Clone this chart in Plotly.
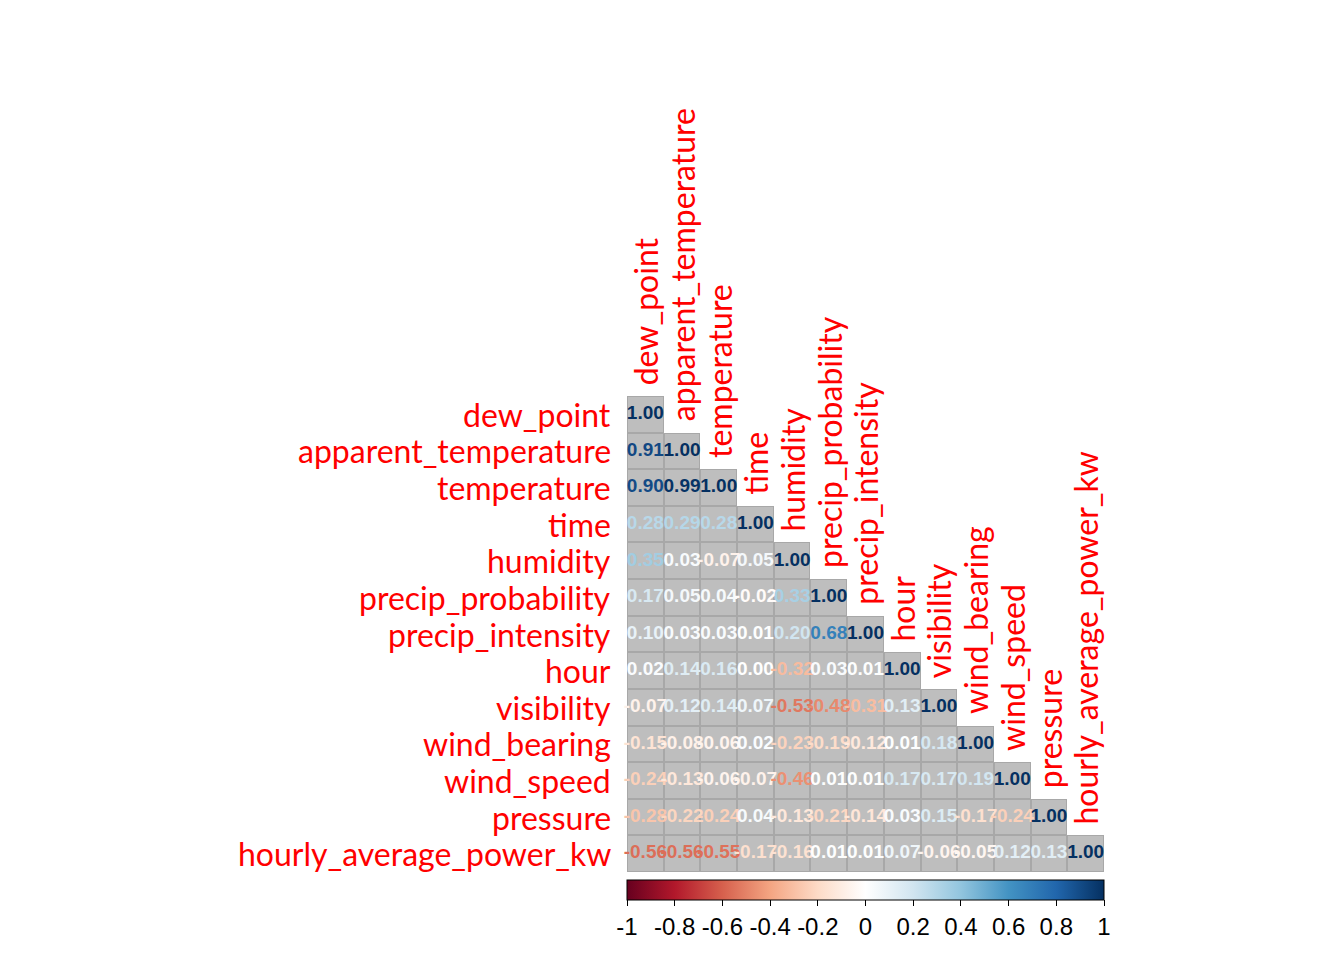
import numpy as np
import plotly.graph_objects as go

labels = ["dew_point", "apparent_temperature", "temperature", "time", "humidity",
          "precip_probability", "precip_intensity", "hour", "visibility",
          "wind_bearing", "wind_speed", "pressure", "hourly_average_power_kw"]

# lower triangle of the correlation matrix, row by row
corr_rows = [
    [1.00],
    [0.91, 1.00],
    [0.90, 0.99, 1.00],
    [0.28, 0.29, 0.28, 1.00],
    [0.35, 0.03, -0.07, 0.05, 1.00],
    [0.17, 0.05, 0.04, -0.02, 0.33, 1.00],
    [0.10, 0.03, 0.03, 0.01, 0.20, 0.68, 1.00],
    [0.02, 0.14, 0.16, 0.00, -0.32, 0.03, 0.01, 1.00],
    [-0.07, 0.12, 0.14, 0.07, -0.53, -0.48, -0.31, 0.13, 1.00],
    [-0.15, -0.08, -0.06, 0.02, -0.23, -0.19, -0.12, 0.01, 0.18, 1.00],
    [-0.24, -0.13, -0.06, -0.07, -0.46, 0.01, 0.01, 0.17, 0.17, 0.19, 1.00],
    [-0.28, -0.22, -0.24, 0.04, -0.13, -0.21, -0.14, 0.03, 0.15, -0.17, -0.24, 1.00],
    [-0.56, -0.56, -0.55, -0.17, -0.16, 0.01, 0.01, 0.07, -0.06, -0.05, 0.12, 0.13, 1.00],
]

cbar_ticks = [-1, -0.8, -0.6, -0.4, -0.2, 0, 0.2, 0.4, 0.6, 0.8, 1]
cbar_text = ["-1", "-0.8", "-0.6", "-0.4", "-0.2", "0", "0.2", "0.4", "0.6", "0.8", "1"]

# corrplot RdBu palette
rdbu = ["#67001F", "#B2182B", "#D6604D", "#F4A582", "#FDDBC7", "#FFFFFF",
        "#D1E5F0", "#92C5DE", "#4393C3", "#2166AC", "#053061"]
colorscale = [[i / (len(rdbu) - 1), c] for i, c in enumerate(rdbu)]


def hex_rgb(h):
    h = h.lstrip("#")
    return [int(h[i:i + 2], 16) for i in (0, 2, 4)]


def value_color(v):
    t = (v + 1) / 2 * (len(rdbu) - 1)
    i = min(int(t), len(rdbu) - 2)
    f = t - i
    a, b = hex_rgb(rdbu[i]), hex_rgb(rdbu[i + 1])
    r, g, bl = [round(a[k] + (b[k] - a[k]) * f) for k in range(3)]
    return f"rgb({r},{g},{bl})"


n = len(labels)
z = np.full((n, n), np.nan)
for i, row in enumerate(corr_rows):
    for j, v in enumerate(row):
        z[i, j] = v

mask = np.where(np.isnan(z), np.nan, 1.0)
xs, ys, vals = [], [], []
for i, row in enumerate(corr_rows):
    for j, v in enumerate(row):
        xs.append(j)
        ys.append(i)
        vals.append(v)

fig = go.Figure()

# grid colour underneath, grey cells on top with gaps
fig.add_trace(go.Heatmap(z=mask, x=list(range(n)), y=list(range(n)),
                         colorscale=[[0, "#A8A8A8"], [1, "#A8A8A8"]],
                         showscale=False, hoverinfo="skip"))
fig.add_trace(go.Heatmap(z=mask, x=list(range(n)), y=list(range(n)),
                         colorscale=[[0, "#BEBEBE"], [1, "#BEBEBE"]],
                         xgap=2, ygap=2, showscale=False, hoverinfo="skip"))

fig.add_trace(go.Scatter(
    x=xs, y=ys, mode="text",
    text=[f"{v:.2f}" for v in vals],
    textfont=dict(family="Liberation Sans", size=19, color=[value_color(v) for v in vals],
                  weight="bold"),
    cliponaxis=False, hoverinfo="skip", showlegend=False,
))

# invisible trace that carries the colour bar
fig.add_trace(go.Scatter(
    x=xs, y=ys, mode="markers", showlegend=False, hoverinfo="skip",
    marker=dict(size=1, opacity=0, color=vals, cmin=-1, cmax=1, colorscale=colorscale,
                showscale=True,
                colorbar=dict(orientation="h", thickness=20, len=477, lenmode="pixels",
                              x=0.5, xanchor="center", y=-0.017, yanchor="top",
                              outlinewidth=1, outlinecolor="black",
                              tickvals=cbar_ticks, ticktext=cbar_text,
                              ticks="outside", ticklen=6, tickcolor="black",
                              tickfont=dict(family="Liberation Sans", size=24, color="black"),
                              xpad=0, ypad=0)),
))

label_font = dict(family="Lato", size=32, color="red")
for i, name in enumerate(labels):
    fig.add_annotation(x=-0.5, y=i, text=name, showarrow=False, xanchor="right",
                       xshift=-14, font=label_font)
    fig.add_annotation(x=i, y=i - 0.5, text=name, showarrow=False, textangle=-90,
                       yanchor="bottom", yshift=9, font=label_font)

fig.update_xaxes(range=[-0.5, n - 0.5], visible=False, showgrid=False, zeroline=False)
fig.update_yaxes(range=[n - 0.5, -0.5], visible=False, showgrid=False, zeroline=False)
fig.update_layout(width=1344, height=960, autosize=False,
                  margin=dict(l=619, r=248, t=388, b=96),
                  paper_bgcolor="white", plot_bgcolor="white", showlegend=False)

fig.write_html("out.html")
